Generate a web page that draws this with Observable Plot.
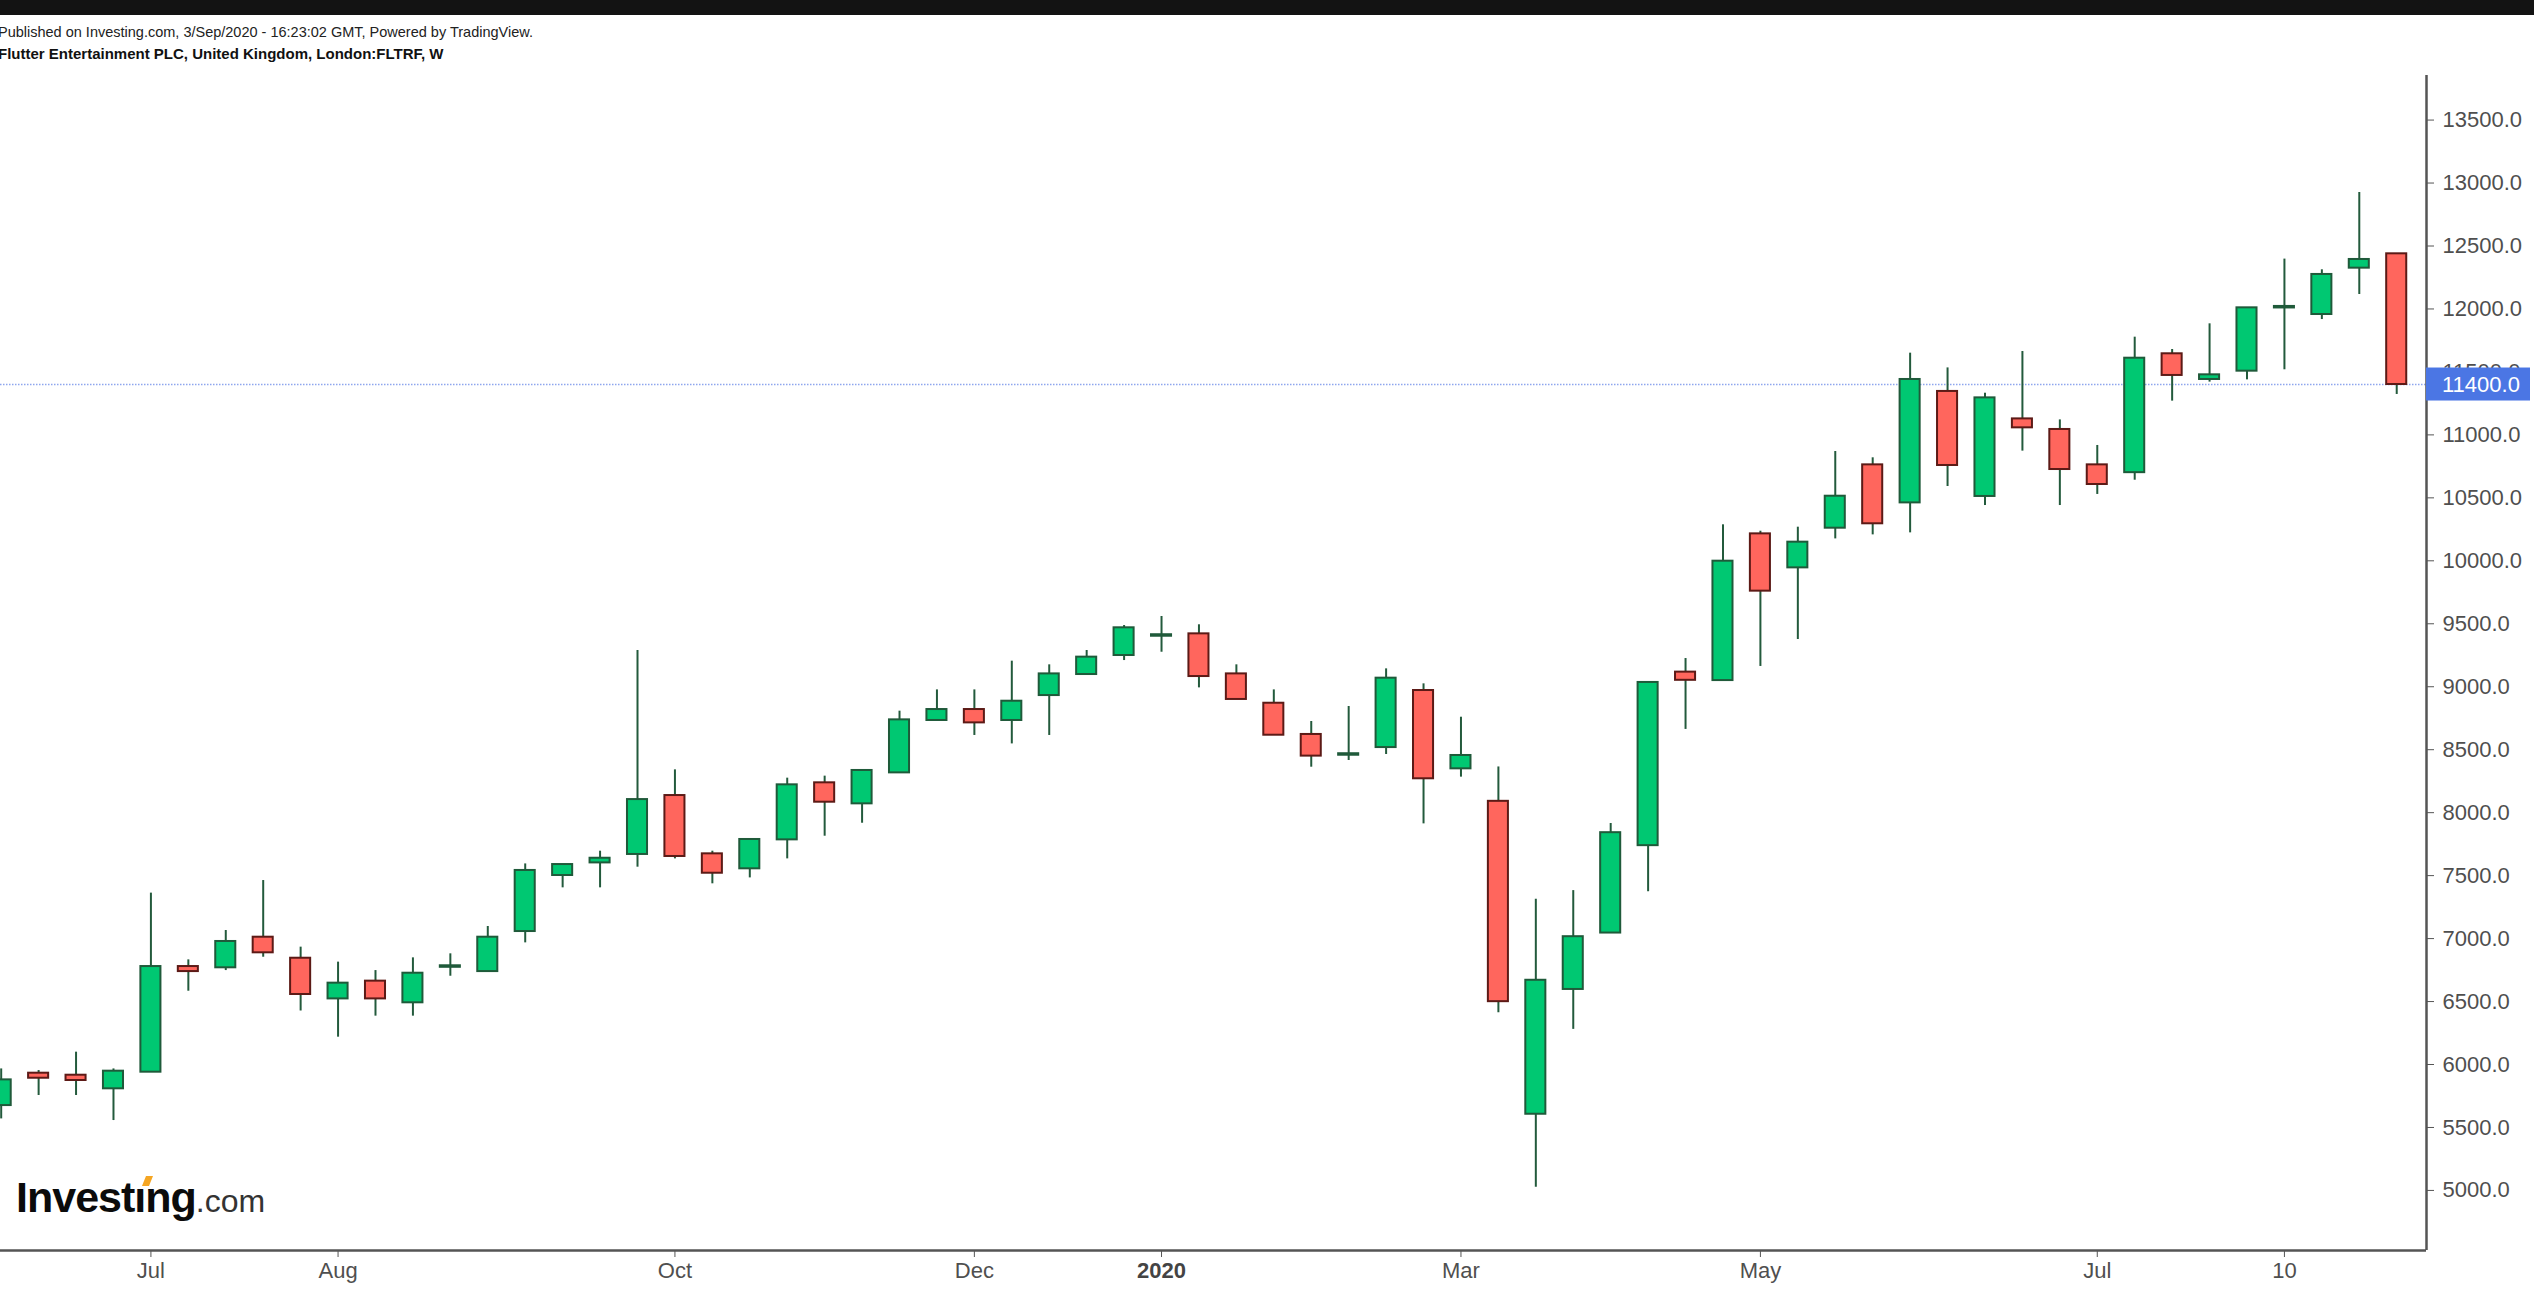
<!DOCTYPE html>
<html>
<head>
<meta charset="utf-8">
<script src="https://cdn.jsdelivr.net/npm/d3@7"></script>
<script src="https://cdn.jsdelivr.net/npm/@observablehq/plot@0.6"></script>
<style>
  html, body { margin: 0; padding: 0; background: #fff; overflow: hidden; width: 2534px; height: 1294px; }
  body { font-family: "Liberation Sans", Arial, sans-serif; position: relative; }
  #bar { height: 15px; background: #131313; }
  #head { position: relative; height: 45px; }
  .h1 { position: absolute; left: -2px; top: 10px; font-size: 14.5px; line-height: 14px; color: #222; white-space: nowrap; }
  .h2 { position: absolute; left: -2px; top: 32px; font-size: 15px; line-height: 14px; font-weight: bold; color: #111; white-space: nowrap; }
  #chart svg { display: block; }
  #logo { position: absolute; left: 16px; top: 1176px; font-size: 43px; line-height: 43px; font-weight: bold; color: #0b0b0b; letter-spacing: -1px; white-space: nowrap; }
  #logo span.com { font-size: 32px; font-weight: normal; color: #333; letter-spacing: 0; }
  #tittle { position: absolute; left: 144px; top: 1176px; width: 7px; height: 10px; background: #f5a623; transform: skewX(-22deg); }
</style>
</head>
<body>
<div id="bar"></div>
<div id="head">
  <div class="h1">Published on Investing.com, 3/Sep/2020 - 16:23:02 GMT, Powered by TradingView.</div>
  <div class="h2">Flutter Entertainment PLC, United Kingdom, London:FLTRF, W</div>
</div>
<div id="chart"></div>
<div id="logo">Investıng<span class="com">.com</span></div>
<div id="tittle"></div>
<script>
// Weekly candles, week starting Monday
const weeks = d3.utcMonday.range(new Date("2019-06-03"), new Date("2020-08-25"));

const open = [5674,5931,5915,5807,5939,6778,6768,7011,6844,6521,6662,6490,6772,6738,7056,7501,7601,7668,8136,7673,
  7554,7784,8237,8070,8316,8732,8819,8732,8930,9097,9248,9401,9420,9102,8869,8621,8456,8517,8970,8348,
  8090,5605,6596,7044,7738,9116,9049,10214,9944,10259,10762,10460,11345,10511,11127,11043,10762,10700,11644,11440,
  11506,12008,11956,12324,12438];
const high = [5965,5952,6098,5965,7361,6831,7064,7461,6932,6813,6746,6847,6879,7096,7593,7588,7694,9288,8340,7694,
  7787,8274,8290,8335,8806,8975,8975,9203,9174,9288,9486,9558,9492,9174,8975,8724,8843,9142,9023,8758,
  8363,7313,7381,7914,9034,9224,10286,10235,10267,10868,10818,11649,11532,11331,11662,11119,10916,11776,11678,11882,
  12009,12396,12311,12925,12438];
const low = [5568,5754,5754,5555,5939,6582,6746,6852,6425,6217,6384,6384,6701,6738,6966,7403,7403,7567,7633,7435,
  7482,7633,7813,7916,8316,8732,8613,8546,8613,9097,9208,9274,8991,8899,8615,8361,8414,8462,7911,8282,
  6411,5025,6279,7044,7372,8661,9049,9161,9375,10174,10206,10222,10590,10439,10871,10439,10527,10640,11268,11419,
  11437,11517,11916,12115,11321];
const close = [5878,5891,5873,5947,6778,6738,6977,6887,6556,6646,6521,6725,6784,7011,7541,7588,7638,8104,7652,7519,
  7787,8221,8083,8335,8737,8819,8713,8885,9102,9235,9468,9413,9081,8899,8615,8449,8468,9068,8269,8454,
  6499,6669,7015,7841,9034,9051,9997,9759,10148,10513,10294,11440,10757,11294,11056,10725,10606,11609,11472,11477,
  12009,12020,12274,12393,11400];

const lastPrice = 11400;
const yTicks = [5000,5500,6000,6500,7000,7500,8000,8500,9000,9500,10000,10500,11000,11500,12000,12500,13000,13500];
const xTickDates = ["2019-07-01","2019-08-05","2019-10-07","2019-12-02","2020-03-02","2020-04-27","2020-06-29","2020-08-03"];
const xTickLabels = ["Jul","Aug","Oct","Dec","Mar","May","Jul","10"];
const yearTickDates = ["2020-01-06"];
const yearTickLabels = ["2020"];

const data = weeks.map((date, i) => ({date, open: open[i], high: high[i], low: low[i], close: close[i]}));
const up = data.filter(d => d.close >= d.open);
const down = data.filter(d => d.close < d.open);

const halfBody = 45 * 3600e3;
const labelOf = new Map(xTickDates.map((d, i) => [+new Date(d), xTickLabels[i]]));
const yearOf = new Map(yearTickDates.map((d, i) => [+new Date(d), yearTickLabels[i]]));

const xDomain = [new Date("2019-06-02T20:54:00Z"), new Date("2020-08-29T13:40:00Z")];
const yDomain = [4523, 13854];

const priceTag = (index, scales, values, dimensions) => {
  const g = d3.create("svg:g");
  const y = scales.y(lastPrice);
  const x0 = dimensions.width - dimensions.marginRight;
  g.append("rect").attr("x", x0).attr("y", y - 16.5).attr("width", 104).attr("height", 33).attr("fill", "#4b76e4");
  g.append("text").attr("x", x0 + 16).attr("y", y).attr("dy", "0.35em")
    .attr("text-anchor", "start")
    .attr("fill", "#fff").attr("font-size", 22).attr("font-family", "Liberation Sans, Arial, sans-serif")
    .text(d3.format(".1f")(lastPrice));
  return g.node();
};

const chart = Plot.plot({
  width: 2534,
  height: 1234,
  marginTop: 15,
  marginBottom: 44,
  marginLeft: 0,
  marginRight: 108,
  style: {fontFamily: "Liberation Sans, Arial, sans-serif", fontSize: "22px", color: "#555", background: "#fff"},
  x: {type: "utc", domain: xDomain},
  y: {domain: yDomain},
  marks: [
    Plot.ruleY([lastPrice], {stroke: "#8ea6ee", strokeWidth: 1.4, strokeDasharray: "1.5,1.5"}),
    Plot.ruleX(data, {x: "date", y1: "low", y2: "high", stroke: "#235a3c", strokeWidth: 2}),
    Plot.rect(up, {x1: d => new Date(+d.date - halfBody), x2: d => new Date(+d.date + halfBody), y1: "open", y2: "close", fill: "#00c872", stroke: "#1f5a3a", strokeWidth: 2}),
    Plot.rect(down, {x1: d => new Date(+d.date - halfBody), x2: d => new Date(+d.date + halfBody), y1: "open", y2: "close", fill: "#ff665d", stroke: "#5c1a16", strokeWidth: 2}),
    Plot.axisY({anchor: "right", ticks: yTicks, tickFormat: d3.format(".1f"), tickSize: 7, tickPadding: 9, fontSize: 22, fill: "#4f4f4f", stroke: "#555", label: null}),
    Plot.axisX({ticks: xTickDates.map(d => new Date(d)), tickFormat: d => labelOf.get(+d), tickSize: 7, tickPadding: 5, fontSize: 22, fill: "#4f4f4f", stroke: "#555", label: null}),
    Plot.axisX({ticks: yearTickDates.map(d => new Date(d)), tickFormat: d => yearOf.get(+d), tickSize: 7, tickPadding: 5, fontSize: 22, fontWeight: "bold", fill: "#444", stroke: "#555", label: null}),
    Plot.ruleX([xDomain[1]], {stroke: "#555", strokeWidth: 2.5}),
    Plot.ruleY([yDomain[0]], {stroke: "#555", strokeWidth: 2.5}),
    priceTag
  ]
});
document.getElementById("chart").appendChild(chart);
</script>
</body>
</html>
